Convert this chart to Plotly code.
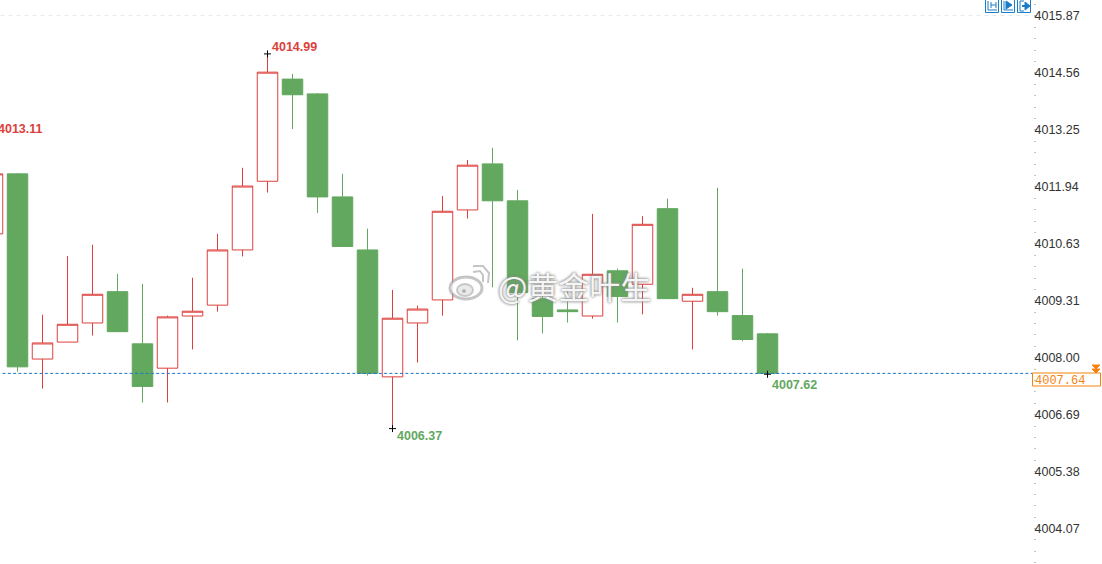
import plotly.graph_objects as go

# candles, oldest first (first one is cut off by the left edge)
opens = [4010.85, 4012.23, 4007.97, 4008.36, 4008.80, 4009.52, 4008.32, 4007.76, 4008.96, 4009.21, 4010.48,
         4012.06, 4014.41, 4014.07, 4011.70, 4010.48, 4007.56, 4008.80, 4009.33, 4011.40, 4012.46, 4011.61,
         4009.36, 4009.10, 4008.96, 4010.00, 4009.69, 4011.43, 4009.30, 4009.52, 4008.97, 4008.55]
highs = [4013.11, 4012.25, 4008.99, 4010.34, 4010.60, 4009.93, 4009.70, 4008.97, 4009.84, 4010.85, 4012.37,
         4014.99, 4014.53, 4014.09, 4012.23, 4010.97, 4009.56, 4009.20, 4011.72, 4012.55, 4012.83, 4011.86,
         4009.50, 4009.54, 4011.31, 4010.05, 4011.26, 4011.66, 4009.61, 4011.91, 4010.05, 4008.57]
lows = [4010.85, 4007.68, 4007.29, 4008.36, 4008.51, 4008.60, 4006.97, 4006.97, 4008.19, 4009.06, 4010.33,
        4011.80, 4013.26, 4011.33, 4010.56, 4007.59, 4006.37, 4007.89, 4008.97, 4011.20, 4009.62, 4008.40,
        4008.56, 4008.81, 4008.90, 4008.81, 4009.00, 4009.36, 4008.19, 4008.97, 4008.38, 4007.62]
closes = [4012.23, 4007.79, 4008.34, 4008.77, 4009.46, 4008.60, 4007.34, 4008.94, 4009.07, 4010.48, 4011.95,
          4014.57, 4014.05, 4011.70, 4010.56, 4007.64, 4008.91, 4009.12, 4011.37, 4012.43, 4011.61, 4009.50,
          4008.95, 4009.06, 4009.92, 4009.41, 4011.07, 4009.36, 4009.46, 4009.06, 4008.42, 4007.64]

tick_vals = [4015.87, 4014.56, 4013.25, 4011.94, 4010.63, 4009.31, 4008.00, 4006.69, 4005.38, 4004.07]
tick_text = ["4015.87", "4014.56", "4013.25", "4011.94", "4010.63", "4009.31", "4008.00", "4006.69", "4005.38", "4004.07"]

last_price = 4007.64
grid_price = 4015.87

# labelled extremes: candle index, price, text
ext_idx = [0, 11, 16, 31]
ext_val = [4013.11, 4014.99, 4006.37, 4007.62]
ext_txt = ["4013.11", "4014.99", "4006.37", "4007.62"]

RED = "#dc403c"
GREEN = "#62a85f"
ORANGE = "#f5820f"
BLUE = "#1a7cc8"

W, H = 1102, 564
PLOT_W = 1033


def px(x):
    return x / PLOT_W


def py(y):
    return 1 - y / H


def path_shape(points, color, width=1, fill=None, closed=False):
    d = "M " + " L ".join(f"{px(a):.5f},{py(b):.5f}" for a, b in points)
    if closed:
        d += " Z"
    return dict(type="path", xref="paper", yref="paper", path=d, line=dict(color=color, width=width),
                fillcolor=fill, layer="above")


def oval(cx, cy, rx, ry, color, width=1, fill=None):
    return dict(type="circle", xref="paper", yref="paper", x0=px(cx - rx), x1=px(cx + rx), y0=py(cy + ry), y1=py(cy - ry),
                line=dict(color=color, width=width), fillcolor=fill, layer="above")


fig = go.Figure()

x_all = list(range(len(opens)))
fig.add_trace(go.Candlestick(
    x=x_all, open=opens, high=highs, low=lows, close=closes,
    increasing=dict(line=dict(color=RED, width=1), fillcolor="white"),
    decreasing=dict(line=dict(color=GREEN, width=1), fillcolor=GREEN),
    whiskerwidth=0, showlegend=False, hoverinfo="skip",
))

# last price and top grid line
fig.add_trace(go.Scatter(x=[0.4, 42], y=[last_price, last_price], mode="lines",
                         line=dict(color="#1b75d0", width=1, dash="3px,2.3px"), hoverinfo="skip", showlegend=False))
fig.add_trace(go.Scatter(x=[0, 42], y=[grid_price, grid_price], mode="lines",
                         line=dict(color="#e6e6e6", width=1, dash="4px,4px"), hoverinfo="skip", showlegend=False))

# small black crosses on the extremes
fig.add_trace(go.Scatter(x=ext_idx[1:], y=ext_val[1:], mode="markers",
                         marker=dict(symbol="cross-thin", size=5, line=dict(color="black", width=1)),
                         hoverinfo="skip", showlegend=False))

annotations = []
ext_col = [RED, RED, GREEN, GREEN]
ext_x = [0.3, 11, 16, 31]  # the first candle is off the plot, its label sits on the edge
ext_xs = [-4, 2, 2, 2]
ext_y = [7, 7, -7, -11]
for i, v, t, c, xs, ys in zip(ext_x, ext_val, ext_txt, ext_col, ext_xs, ext_y):
    annotations.append(dict(x=i, y=v, xref="x", yref="y", text=f"<b>{t}</b>", showarrow=False, xanchor="left",
                            yanchor="middle", xshift=xs, yshift=ys,
                            font=dict(family="Liberation Sans", size=12.5, color=c)))

# last price tag
annotations.append(dict(x=px(1033), y=py(380.5), xref="paper", yref="paper", text=f"{last_price:.2f}", showarrow=False,
                        xanchor="left", yanchor="middle", font=dict(family="Liberation Mono", size=12, color=ORANGE)))

# watermark
annotations.append(dict(x=px(496), y=py(285), xref="paper", yref="paper", text="@黄金叶生", showarrow=False,
                        xanchor="left", yanchor="middle",
                        font=dict(family="Noto Sans CJK SC", size=31, color="rgba(255,255,255,0.92)",
                                  shadow="0 0 3px #888, 0 0 3px #888")))

shapes = []
shapes.append(dict(type="rect", xref="paper", yref="paper", x0=px(1032.5), x1=px(1100.5), y0=py(386), y1=py(373),
                   line=dict(color=ORANGE, width=1), fillcolor="rgba(0,0,0,0)", layer="above"))
shapes.append(path_shape([(1092, 365), (1100, 365), (1096, 369)], ORANGE, 1, ORANGE, True))
shapes.append(path_shape([(1092, 369), (1100, 369), (1096, 373)], ORANGE, 1, ORANGE, True))

# the three buttons at top right
for left in [985.5, 1001.5, 1017.5]:
    shapes.append(path_shape([(left, 0), (left, 12.5), (left + 13, 12.5), (left + 13, 0)], BLUE))
shapes.append(path_shape([(988, 1), (988, 10), (997, 10)], BLUE))
shapes.append(path_shape([(991, 5), (996, 5)], BLUE))
shapes.append(path_shape([(991, 2), (991, 8)], BLUE))
shapes.append(path_shape([(996, 2), (996, 8)], BLUE))
shapes.append(path_shape([(1004, 1), (1004, 10), (1013, 10)], BLUE))
shapes.append(path_shape([(1006, 1), (1012, 5), (1006, 9)], BLUE, 1, BLUE, True))
shapes.append(path_shape([(1020, 1), (1020, 11), (1024, 11)], BLUE))
shapes.append(path_shape([(1020, 1), (1024, 1)], BLUE))
shapes.append(path_shape([(1022, 6), (1025, 6)], BLUE, 2))
shapes.append(path_shape([(1025, 2), (1030, 6), (1025, 10)], BLUE, 1, BLUE, True))

# weibo logo in the watermark
wm = "rgba(150,150,150,0.55)"
shapes.append(oval(466, 288, 16, 11, wm, 3, "rgba(255,255,255,0.88)"))
shapes.append(oval(465, 290, 8, 6, "rgba(170,170,170,0.6)", 2, "rgba(225,225,225,0.7)"))
shapes.append(oval(464, 291, 1.5, 1.5, wm, 1, wm))
shapes.append(path_shape([(473, 272), (480, 271), (483, 275), (483, 282)], wm, 2))
shapes.append(path_shape([(473, 266), (483, 266), (489, 273), (488, 283)], wm, 2))

fig.update_layout(
    width=W, height=H,
    margin=dict(l=0, r=W - PLOT_W, t=0, b=0),
    paper_bgcolor="white", plot_bgcolor="white",
    showlegend=False,
    boxgap=0.18, boxgroupgap=0,
    annotations=annotations,
    shapes=shapes,
    xaxis=dict(range=[0.3, 41.62], visible=False, rangeslider=dict(visible=False)),
    yaxis=dict(
        range=[4003.255, 4016.23],
        side="right", showgrid=False, zeroline=False, showline=False,
        tickmode="array", tickvals=tick_vals, ticktext=tick_text,
        ticks="outside", ticklen=3, tickcolor="#bdbdbd", tickwidth=1,
        ticklabelstandoff=-5,
        tickfont=dict(family="Liberation Sans", size=12.5, color="#333333"),
        minor=dict(ticks="outside", ticklen=2, tickwidth=1, tickcolor="#c4c4c4", tickmode="linear",
                   tick0=4004.07, dtick=0.262, showgrid=False),
    ),
)

fig.write_html("out.html", config=dict(displayModeBar=False),
               post_script="document.body.style.margin='0';document.body.style.overflow='hidden';")
